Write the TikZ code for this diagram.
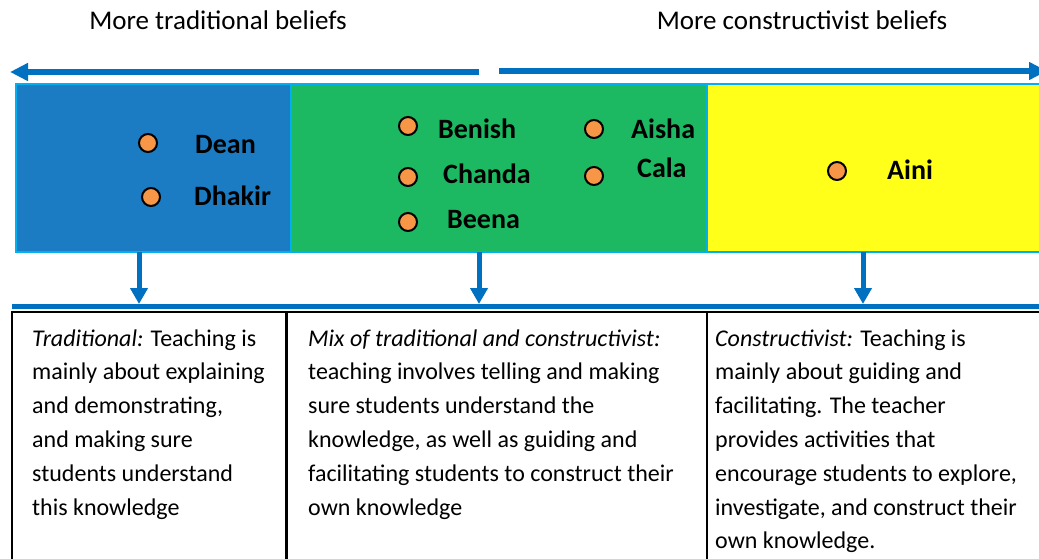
\documentclass[tikz,border=0pt]{standalone}
\usepackage{fontspec}
\setmainfont{Carlito}
\usetikzlibrary{arrows.meta}
\definecolor{arrowblue}{HTML}{0070C0}
\definecolor{boxblue}{HTML}{1B7CC4}
\definecolor{boxgreen}{HTML}{1DB862}
\definecolor{boxyellow}{HTML}{FFFF19}
\definecolor{boxedge}{HTML}{00B0F0}
\definecolor{dotorange}{HTML}{F79646}
\tikzset{
  hbar/.style={arrowblue, line width=5pt},
  longarrow/.style={arrowblue, line width=5.5pt, -{Triangle[length=18pt,width=17pt]}},
  downarrow/.style={arrowblue, line width=5pt, -{Triangle[length=16pt,width=17pt]}},
  band/.style={draw=boxedge, line width=2pt, anchor=north west, minimum height=168pt, inner sep=0pt, outer sep=0pt},
  persondot/.style={circle, draw=black, line width=2pt, fill=dotorange, minimum size=18pt, inner sep=0pt},
  personname/.style={anchor=base west, inner sep=0pt, font=\fontsize{28}{30}\selectfont\bfseries},
  header/.style={inner sep=0pt, font=\fontsize{27}{30}\selectfont},
  bodynode/.style={anchor=base west, inner sep=0pt},
  textframe/.style={black, line width=1.5pt},
}
\newcommand{\bodytext}[1]{\parbox[t]{400pt}{\fontsize{24}{33.8}\selectfont\raggedright #1}}
\begin{document}
\begin{tikzpicture}[x=1pt,y=-1pt]
\useasboundingbox (0,0) rectangle (1039,558);
\clip (0,0) rectangle (1039,558);

% headers
\node[header] (h1) at (218,20) {More traditional beliefs};
\node[header] (h2) at (802,20) {More constructivist beliefs};

% top arrows
\coordinate (la0) at (479,72);
\coordinate (la1) at (10,72);
\coordinate (ra0) at (499,71);
\coordinate (ra1) at (1047,71);
\draw[longarrow] (la0) -- (la1);
\draw[longarrow] (ra0) -- (ra1);

% bands
\node[band, fill=boxblue, minimum width=275pt] (blue) at (16,84) {};
\node[band, fill=boxgreen, minimum width=416pt] (green) at (291,84) {};
\node[band, fill=boxyellow, minimum width=345pt] (yellow) at (707,84) {};

% dots and names
\node[persondot] (d1) at (148,143) {};
\node[personname] (n1) at (195,153) {Dean};
\node[persondot] (d2) at (151,197) {};
\node[personname] (n2) at (194,205) {Dhakir};
\node[persondot] (d3) at (408,126) {};
\node[personname] (n3) at (438,138) {Benish};
\node[persondot] (d4) at (408,177) {};
\node[personname] (n4) at (443,183) {Chanda};
\node[persondot] (d5) at (408,222) {};
\node[personname] (n5) at (447,228) {Beena};
\node[persondot] (d6) at (594,129) {};
\node[personname] (n6) at (631,138) {Aisha};
\node[persondot] (d7) at (594,176) {};
\node[personname] (n7) at (637,177) {Cala};
\node[persondot] (d8) at (837,171) {};
\node[personname] (n8) at (887,179) {Aini};

% horizontal bar
\coordinate (b0) at (12,306.5);
\coordinate (b1) at (1045,306.5);
\draw[hbar] (b0) -- (b1);

% down arrows
\coordinate (t1) at (139,304);
\coordinate (t2) at (479,304);
\coordinate (t3) at (863,304);
\draw[downarrow] (t1 |- blue.south) -- (t1);
\draw[downarrow] (t2 |- green.south) -- (t2);
\draw[downarrow] (t3 |- yellow.south) -- (t3);

% text frames
\coordinate (f0) at (12,312);
\coordinate (f1) at (1045,312);
\draw[textframe] (12,570) -- (f0) -- (f1);
\draw[textframe, line width=2.2pt] (286.5,312) -- (286.5,570);
\draw[textframe] (707,312) -- (707,570);

% body texts
\node[bodynode] (tx1) at (32,346) {\bodytext{\textit{Traditional:} Teaching is\\mainly about explaining\\and demonstrating,\\and making sure\\students understand\\this knowledge}};
\node[bodynode] (tx2) at (308,346) {\bodytext{\textit{Mix of traditional and constructivist:}\\teaching involves telling and making\\sure students understand the\\knowledge, as well as guiding and\\facilitating students to construct their\\own knowledge}};
\node[bodynode] (tx3) at (715,346) {\bodytext{\textit{Constructivist:} Teaching is\\mainly about guiding and\\facilitating. The teacher\\provides activities that\\encourage students to explore,\\investigate, and construct their\\own knowledge.}};
\end{tikzpicture}
\end{document}
